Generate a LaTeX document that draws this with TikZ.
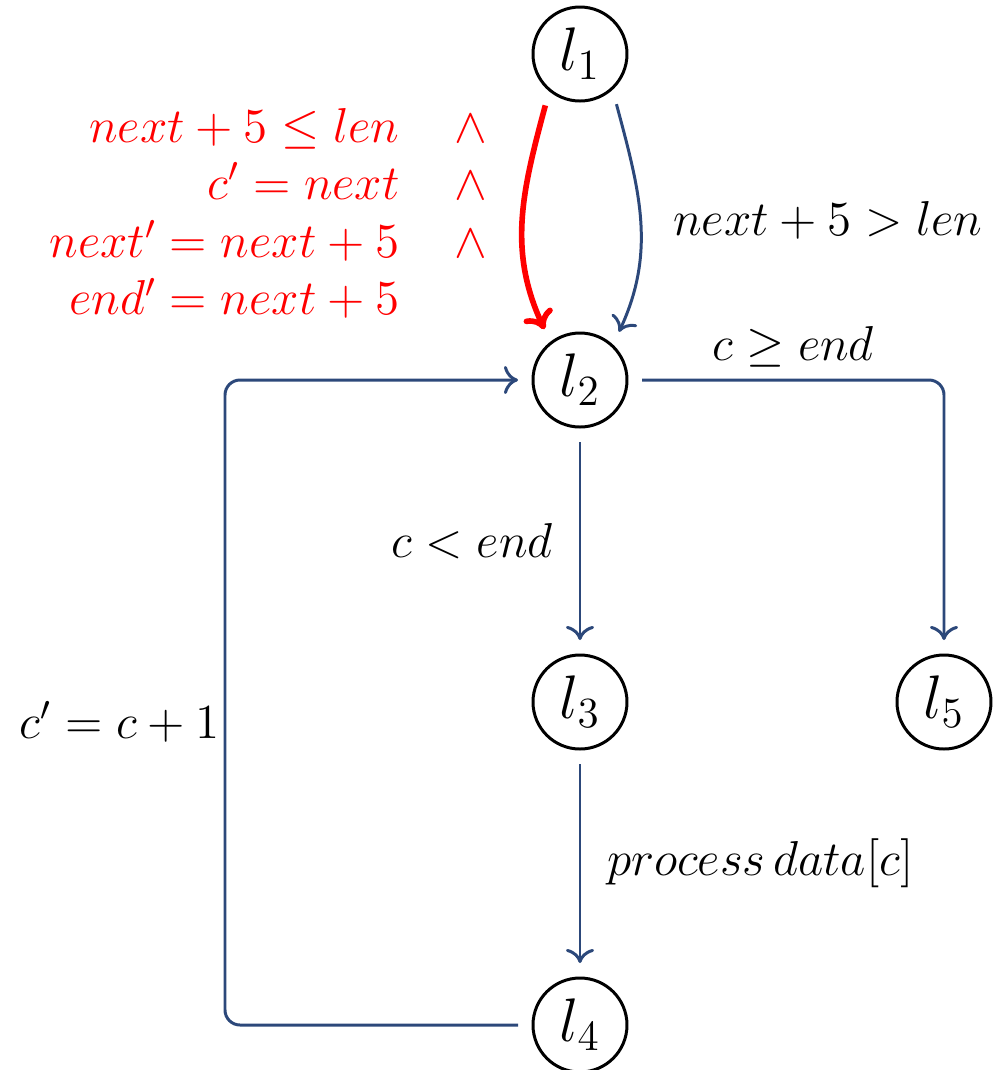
\RequirePackage{fix-cm}
\documentclass[tikz,border=0pt]{standalone}
\usetikzlibrary{arrows.meta}
\definecolor{edgeblue}{RGB}{44,72,122}

\begin{document}
\begin{tikzpicture}[>={To[length=4pt,width=8pt]},
  loc/.style={circle,draw,line width=0.85pt,minimum size=0.94cm,inner sep=0pt,outer sep=0.15cm,font=\fontsize{17.5}{21}\selectfont},
  lab/.style={font=\fontsize{13.95}{16.4}\selectfont},
  flow/.style={->,draw=edgeblue,line width=0.85pt}]
\useasboundingbox (0,0) rectangle (9.92,-10.70);
\node[loc] (l1) at (5.80,-0.54) {$l_1$};
\node[loc] (l2) at (5.80,-3.80) {$l_2$};
\node[loc] (l3) at (5.80,-7.02) {$l_3$};
\node[loc] (l5) at (9.44,-7.02) {$l_5$};
\node[loc] (l4) at (5.80,-10.25) {$l_4$};
\coordinate (loop) at (2.25,-10.25);

\draw[-{To[length=5pt,width=9pt]},red,line width=1.6pt] (l1.236) to[out=-105,in=115] (l2.125);
\node[lab,red,anchor=east,inner sep=0pt] (guard) at (4.88,-2.17)
  {$\begin{array}{@{}r@{\hspace{0.55cm}}c@{}}
    next+5\leq len & \wedge\\
    c'=next & \wedge\\
    next'=next+5 & \wedge\\
    end'=next+5 &
  \end{array}$};
\draw[flow] (l1.-54) to[out=-75,in=65] (l2.51);
\node[lab] (skip) at (8.28,-2.20) {$next+5>len$};

\draw[flow,rounded corners=0.15cm] (l2.east) -| (l5.north) node[lab,pos=0.25,above] (exit) {$c\geq end$};
\draw[flow] (l2) -- (l3) node[lab,midway,left=4pt] (enter) {$c<end$};
\draw[flow] (l3) -- (l4) node[lab,midway,right=4pt] (proc) {$process\,data[c]$};
\draw[flow,rounded corners=0.15cm] (l4.west) -- (loop) |- (l2.west) node[lab,pos=0.235,left=0pt,inner sep=1pt] (inc) {$c'=c+1$};
\end{tikzpicture}
\end{document}
